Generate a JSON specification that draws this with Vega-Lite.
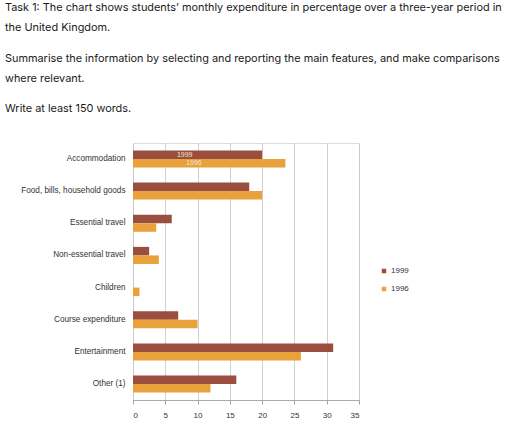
{
  "$schema": "https://vega.github.io/schema/vega-lite/v6.json",
  "autosize": {"type": "none"},
  "padding": {"left": 133, "top": 143, "right": 153, "bottom": 23},
  "width": 226,
  "height": 257,
  "background": "#ffffff",
  "title": {
    "text": [
      "Task 1: The chart shows students’ monthly expenditure in percentage over a three-year period in",
      "\u200b",
      "the United Kingdom.",
      "\u200b",
      "\u200b",
      "Summarise the information by selecting and reporting the main features, and make comparisons",
      "\u200b",
      "where relevant.",
      "\u200b",
      "\u200b",
      "Write at least 150 words."
    ],
    "anchor": "start",
    "frame": "group",
    "dx": -128,
    "offset": 29,
    "font": "Inter",
    "fontSize": 10.9,
    "fontWeight": "normal",
    "lineHeight": 10.1,
    "color": "#1a1a1a"
  },
  "data": {
    "values": [
      {"category": "Accommodation", "year": "1999", "value": 20},
      {"category": "Accommodation", "year": "1996", "value": 23.6},
      {"category": "Food, bills, household goods", "year": "1999", "value": 18},
      {"category": "Food, bills, household goods", "year": "1996", "value": 20},
      {"category": "Essential travel", "year": "1999", "value": 6},
      {"category": "Essential travel", "year": "1996", "value": 3.6},
      {"category": "Non-essential travel", "year": "1999", "value": 2.5},
      {"category": "Non-essential travel", "year": "1996", "value": 4},
      {"category": "Children", "year": "1999", "value": 0},
      {"category": "Children", "year": "1996", "value": 1},
      {"category": "Course expenditure", "year": "1999", "value": 7},
      {"category": "Course expenditure", "year": "1996", "value": 10},
      {"category": "Entertainment", "year": "1999", "value": 31},
      {"category": "Entertainment", "year": "1996", "value": 26},
      {"category": "Other (1)", "year": "1999", "value": 16},
      {"category": "Other (1)", "year": "1996", "value": 12}
    ]
  },
  "config": {
    "axisX": {
      "values": [0, 5, 10, 15, 20, 25, 30, 35],
      "labelOverlap": false,
      "grid": true,
      "gridColor": "#c4c4c4",
      "gridWidth": 0.8,
      "domainColor": "#a0a0a0",
      "domainWidth": 0.8,
      "tickColor": "#a0a0a0",
      "tickSize": 4,
      "labelFont": "Liberation Sans",
      "labelFontSize": 8,
      "labelColor": "#333333",
      "labelPadding": 7,
      "title": null
    }
  },
  "encoding": {
    "y": {
      "field": "category",
      "type": "nominal",
      "sort": null,
      "title": null,
      "scale": {"paddingInner": 0.47, "paddingOuter": 0.23},
      "axis": {
        "ticks": false,
        "domain": false,
        "labelFont": "Liberation Sans",
        "labelFontSize": 8.2,
        "labelColor": "#333333",
        "labelPadding": 8
      }
    },
    "yOffset": {"field": "year", "type": "nominal", "sort": ["1999", "1996"]}
  },
  "layer": [
    {
      "mark": {"type": "bar"},
      "encoding": {
        "x": {
          "field": "value",
          "type": "quantitative",
          "title": null,
          "scale": {"domain": [0, 35], "nice": false},
          "axis": {"values": [0, 5, 10, 15, 20, 25, 30, 35], "labelOverlap": false}
        },
        "color": {
          "field": "year",
          "type": "nominal",
          "scale": {"domain": ["1999", "1996"], "range": ["#9a4f3e", "#e9a13b"]},
          "legend": {
            "title": null,
            "orient": "none",
            "legendX": 247,
            "legendY": 124,
            "symbolType": "square",
            "symbolSize": 20,
            "symbolStrokeWidth": 0,
            "rowPadding": 10,
            "labelFont": "Liberation Sans",
            "labelFontSize": 8,
            "labelColor": "#333333",
            "labelOffset": 3
          }
        }
      }
    },
    {
      "transform": [
        {"filter": "datum.category === 'Accommodation'"},
        {"calculate": "datum.value * 0.4", "as": "labelPos"}
      ],
      "mark": {"type": "text", "font": "Liberation Sans", "fontSize": 7, "color": "#f3e6d8"},
      "encoding": {
        "x": {
          "field": "labelPos",
          "type": "quantitative",
          "title": null,
          "axis": {"values": [0, 5, 10, 15, 20, 25, 30, 35], "labelOverlap": false}
        },
        "text": {"field": "year", "type": "nominal"}
      }
    }
  ]
}
